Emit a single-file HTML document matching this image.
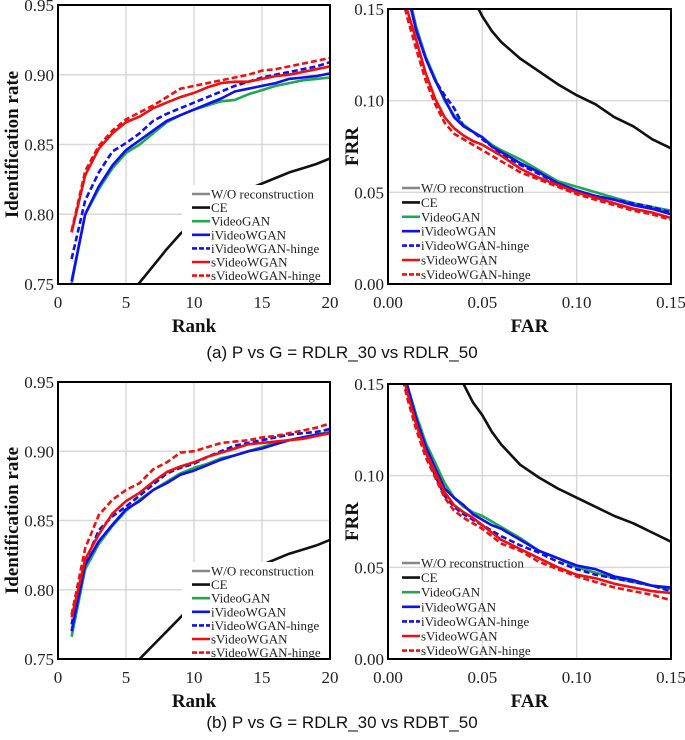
<!DOCTYPE html>
<html><head><meta charset="utf-8"><style>
html,body{margin:0;padding:0;background:#fff;}
svg{display:block;}
.tick{font-family:"Liberation Serif",serif;font-size:17px;fill:#222;}
.axt{font-family:"Liberation Serif",serif;font-size:19px;font-weight:bold;fill:#111;}
.leg{font-family:"Liberation Serif",serif;font-size:13px;fill:#222;}
.cap{font-family:"Liberation Sans",sans-serif;font-size:17px;fill:#111;}
</style></head><body>
<svg id="fig" width="685" height="740" viewBox="0 0 685 740" xmlns="http://www.w3.org/2000/svg">
<text class="cap" x="342" y="358" text-anchor="middle">(a) P vs G = RDLR_30 vs RDLR_50</text>
<text class="cap" x="342" y="728" text-anchor="middle">(b) P vs G = RDLR_30 vs RDBT_50</text>
</svg>
<script>
const seriesNames = ["W/O reconstruction","CE","VideoGAN","iVideoWGAN","iVideoWGAN-hinge","sVideoWGAN","sVideoWGAN-hinge"];
const seriesColors = ["#888888","#111111","#1fa84f","#1010ee","#1010ee","#ee1010","#ee1010"];
const seriesDash = [false,false,false,false,true,false,true];

const ranks = [1,2,3,4,5,6,7,8,9,10,11,12,13,14,15,16,17,18,19,20];
const rankTicks = [0,5,10,15,20];
const idTicks = [0.75,0.80,0.85,0.90,0.95];
const farGrid = [0.008,0.01,0.015,0.02,0.025,0.03,0.035,0.04,0.045,0.05,0.055,0.06,0.07,0.08,0.09,0.10,0.11,0.12,0.13,0.14,0.15];
const farTicks = [0,0.05,0.10,0.15];
const frrTicks = [0,0.05,0.10,0.15];

// (a) identification
const aCE = [0.70,0.71,0.72,0.73,0.74,0.751,0.763,0.775,0.786,0.795,0.802,0.808,0.813,0.818,0.822,0.826,0.830,0.833,0.836,0.840];
const aVideoGAN = [0.750,0.800,0.818,0.833,0.844,0.850,0.858,0.866,0.871,0.875,0.878,0.881,0.882,0.886,0.889,0.892,0.894,0.896,0.897,0.898];
const aIW = [0.752,0.800,0.820,0.835,0.846,0.853,0.860,0.867,0.871,0.875,0.879,0.883,0.888,0.890,0.892,0.894,0.897,0.898,0.899,0.901];
const aIWH = [0.768,0.810,0.830,0.845,0.851,0.858,0.867,0.872,0.876,0.880,0.884,0.888,0.892,0.895,0.898,0.900,0.902,0.904,0.906,0.909];
const aSW = [0.787,0.828,0.847,0.858,0.866,0.870,0.876,0.880,0.884,0.887,0.891,0.894,0.895,0.895,0.897,0.899,0.900,0.902,0.904,0.906];
const aSWH = [0.788,0.831,0.849,0.860,0.868,0.873,0.878,0.884,0.890,0.892,0.894,0.896,0.898,0.900,0.903,0.904,0.906,0.908,0.910,0.912];
// (b) identification
const bCE = [0.70,0.71,0.72,0.73,0.74,0.750,0.760,0.770,0.780,0.790,0.797,0.803,0.808,0.813,0.818,0.822,0.826,0.829,0.832,0.836];
const bVideoGAN = [0.766,0.815,0.833,0.846,0.857,0.865,0.872,0.878,0.884,0.888,0.891,0.895,0.897,0.900,0.903,0.906,0.908,0.910,0.912,0.914];
const bIW = [0.770,0.818,0.835,0.847,0.858,0.864,0.872,0.877,0.883,0.886,0.890,0.894,0.897,0.900,0.902,0.905,0.908,0.910,0.912,0.913];
const bIWH = [0.775,0.820,0.843,0.853,0.860,0.868,0.876,0.884,0.888,0.891,0.896,0.900,0.904,0.906,0.908,0.910,0.912,0.913,0.914,0.916];
const bSW = [0.780,0.822,0.840,0.855,0.864,0.870,0.878,0.885,0.889,0.892,0.896,0.899,0.902,0.905,0.906,0.907,0.908,0.909,0.911,0.913];
const bSWH = [0.782,0.830,0.854,0.865,0.872,0.877,0.887,0.892,0.899,0.900,0.903,0.906,0.907,0.908,0.910,0.911,0.913,0.915,0.917,0.920];
// (a) FAR/FRR
const aFrrCE = [0.40,0.35,0.30,0.27,0.24,0.21,0.19,0.17,0.156,0.146,0.138,0.132,0.123,0.116,0.109,0.103,0.098,0.091,0.086,0.079,0.074];
const aFrrVG = [0.175,0.162,0.140,0.124,0.112,0.100,0.092,0.087,0.083,0.080,0.076,0.073,0.068,0.062,0.056,0.053,0.050,0.047,0.044,0.042,0.040];
const aFrrIW = [0.175,0.160,0.138,0.123,0.111,0.101,0.091,0.086,0.083,0.080,0.075,0.072,0.066,0.061,0.055,0.051,0.048,0.046,0.043,0.041,0.038];
const aFrrIWH = [0.175,0.160,0.138,0.123,0.111,0.103,0.096,0.086,0.083,0.079,0.075,0.071,0.065,0.060,0.055,0.051,0.048,0.046,0.044,0.042,0.039];
const aFrrSW = [0.165,0.150,0.133,0.115,0.101,0.091,0.085,0.081,0.078,0.076,0.073,0.070,0.063,0.058,0.054,0.050,0.047,0.044,0.041,0.039,0.036];
const aFrrSWH = [0.155,0.146,0.128,0.111,0.098,0.088,0.082,0.079,0.076,0.073,0.070,0.067,0.061,0.057,0.053,0.049,0.046,0.043,0.040,0.038,0.035];
// (b) FAR/FRR
const bFrrCE = [0.40,0.35,0.30,0.26,0.23,0.20,0.175,0.150,0.140,0.133,0.124,0.117,0.106,0.099,0.093,0.088,0.083,0.078,0.074,0.069,0.064];
const bFrrVG = [0.165,0.150,0.133,0.118,0.107,0.096,0.088,0.083,0.080,0.078,0.075,0.072,0.066,0.059,0.055,0.050,0.047,0.044,0.042,0.040,0.038];
const bFrrIW = [0.165,0.150,0.131,0.116,0.104,0.093,0.088,0.084,0.079,0.076,0.073,0.071,0.065,0.059,0.055,0.051,0.049,0.045,0.043,0.040,0.039];
const bFrrIWH = [0.160,0.148,0.128,0.113,0.100,0.089,0.083,0.079,0.076,0.073,0.070,0.067,0.062,0.058,0.053,0.049,0.046,0.044,0.042,0.040,0.037];
const bFrrSW = [0.155,0.146,0.128,0.113,0.102,0.091,0.084,0.080,0.077,0.073,0.069,0.065,0.060,0.055,0.050,0.046,0.044,0.041,0.039,0.037,0.036];
const bFrrSWH = [0.152,0.143,0.125,0.110,0.099,0.088,0.081,0.077,0.074,0.071,0.067,0.063,0.059,0.053,0.049,0.045,0.042,0.039,0.037,0.035,0.032];

const NS = "http://www.w3.org/2000/svg";
const svg = document.getElementById("fig");
function mk(tag, attrs, parent){const e=document.createElementNS(NS,tag);for(const k in attrs)e.setAttribute(k,attrs[k]);(parent||svg).appendChild(e);return e;}
let clipId=0;

function panel(p){
  const sx=v=>p.x0+(v-p.xmin)/(p.xmax-p.xmin)*(p.x1-p.x0);
  const sy=v=>p.y1-(v-p.ymin)/(p.ymax-p.ymin)*(p.y1-p.y0);
  const g=mk("g",{});
  
  
  p.xt.forEach(t=>{
    const l=mk("line",{x1:sx(t),x2:sx(t),y1:p.y0,y2:p.y1,stroke:"#d9d9d9","stroke-width":1.5},g);
    
    
    const tx=mk("text",{x:sx(t),y:p.y1+24,"text-anchor":"middle",class:"tick"},g);
    tx.textContent=t.toFixed(p.xd);
    
    
  });
  p.yt.forEach(t=>{
    const l=mk("line",{x1:p.x0,x2:p.x1,y1:sy(t),y2:sy(t),stroke:"#d9d9d9","stroke-width":1.5},g);
    
    
    const tx=mk("text",{x:p.x0-4,y:sy(t)+6,"text-anchor":"end",class:"tick"},g);
    tx.textContent=t.toFixed(2);
    
    
  });
  const id="clip"+(clipId++);
  const cp=mk("clipPath",{id:id},g);
  mk("rect",{x:p.x0,y:p.y0,width:p.x1-p.x0,height:p.y1-p.y0},cp);
  const sg=mk("g",{"clip-path":"url(#"+id+")"},g);
  p.series.forEach((s,i)=>{
    if(!s)return;
    const idx=i+1;
    const d=s.map((v,j)=>(j?"L":"M")+sx(p.xs[j]).toFixed(1)+","+sy(v).toFixed(1)).join("");
    const path=mk("path",{d:d,fill:"none",stroke:seriesColors[idx],"stroke-width":2.6,"stroke-linejoin":"round","stroke-dasharray":seriesDash[idx]?"6,3":"none"},sg);
    
    
  });
  // legend
  const lg=mk("g",{},g);
  
  
  if(p.lbg) mk("rect",{x:p.lx-10,y:p.ly-9,width:p.x1-p.lx+9,height:p.y1-p.ly+8,fill:"#fff"},lg);
  seriesNames.forEach((n,i)=>{
    const y=p.ly+i*p.lsp;
    const e=mk("g",{},lg);
    
    
    mk("line",{x1:p.lx,x2:p.lx+18,y1:y,y2:y,stroke:seriesColors[i],"stroke-width":2.6,"stroke-dasharray":seriesDash[i]?"5,2":"none"},e);
    const t=mk("text",{x:p.lx+19,y:y+4.5,class:"leg"},e);t.textContent=n;
  });
  mk("rect",{x:p.x0,y:p.y0,width:p.x1-p.x0,height:p.y1-p.y0,fill:"none",stroke:"#000","stroke-width":2},g);
  const xl=mk("text",{x:(p.x0+p.x1)/2,y:p.y1+48,"text-anchor":"middle",class:"axt"},g);
  xl.textContent=p.xlab;
  
  
  const yl=mk("text",{x:0,y:0,"text-anchor":"middle",class:"axt",transform:"translate("+p.ylx+","+((p.y0+p.y1)/2)+") rotate(-90)"},g);
  yl.textContent=p.ylab;
  
  
}

panel({name:"chart-a-identification",x0:58,x1:330,y0:5,y1:284,xmin:0,xmax:20,ymin:0.75,ymax:0.95,xt:rankTicks,yt:idTicks,xd:0,xs:ranks,
  series:[aCE,aVideoGAN,aIW,aIWH,aSW,aSWH],lbg:true,lx:192,ly:194,lsp:13.6,xlab:"Rank",ylab:"Identification rate",ylx:18});
panel({name:"chart-a-far-frr",x0:388,x1:671,y0:9,y1:284,xmin:0,xmax:0.15,ymin:0,ymax:0.15,xt:farTicks,yt:frrTicks,xd:2,xs:farGrid,
  series:[aFrrCE,aFrrVG,aFrrIW,aFrrIWH,aFrrSW,aFrrSWH],lbg:false,lx:402,ly:188,lsp:14.4,xlab:"FAR",ylab:"FRR",ylx:358});
panel({name:"chart-b-identification",x0:58,x1:330,y0:382,y1:659,xmin:0,xmax:20,ymin:0.75,ymax:0.95,xt:rankTicks,yt:idTicks,xd:0,xs:ranks,
  series:[bCE,bVideoGAN,bIW,bIWH,bSW,bSWH],lbg:true,lx:192,ly:571,lsp:13.6,xlab:"Rank",ylab:"Identification rate",ylx:18});
panel({name:"chart-b-far-frr",x0:388,x1:671,y0:384,y1:659,xmin:0,xmax:0.15,ymin:0,ymax:0.15,xt:farTicks,yt:frrTicks,xd:2,xs:farGrid,
  series:[bFrrCE,bFrrVG,bFrrIW,bFrrIWH,bFrrSW,bFrrSWH],lbg:false,lx:402,ly:563,lsp:14.6,xlab:"FAR",ylab:"FRR",ylx:358});
</script>
</body></html>
